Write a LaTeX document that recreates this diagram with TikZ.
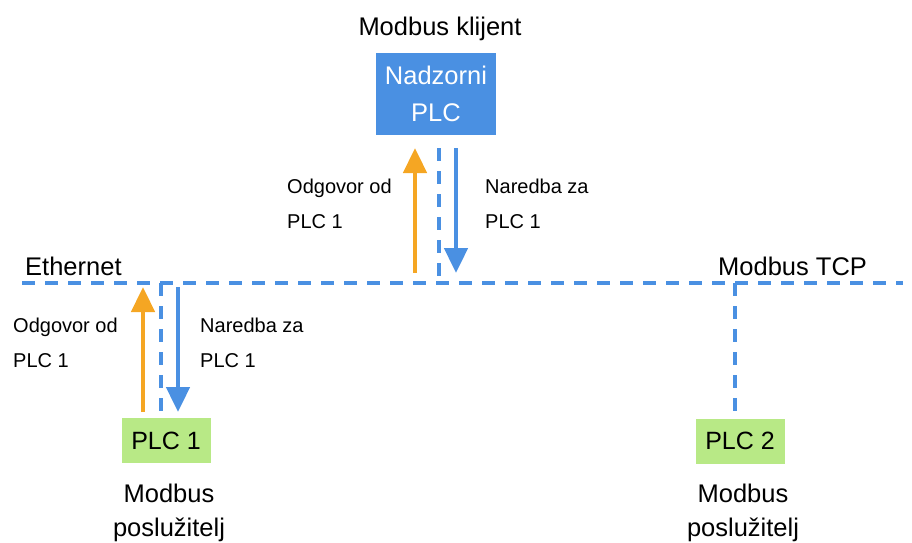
\documentclass[tikz,border=0pt]{standalone}
\usepackage{fontspec}
\setmainfont{Liberation Sans}
\usetikzlibrary{arrows.meta}
\definecolor{netblue}{HTML}{4A90E2}
\definecolor{replyorange}{HTML}{F5A623}
\definecolor{slavegreen}{HTML}{B8E986}
\begin{document}
\begin{tikzpicture}[x=1pt,y=-1pt,
  bigtext/.style={font=\fontsize{25.5}{33.5}\selectfont, inner sep=0pt, align=center},
  smalltext/.style={font=\fontsize{20}{35}\selectfont, inner sep=0pt, align=left, anchor=west},
  bus/.style={netblue, line width=3.3pt, dash pattern=on 13pt off 10pt},
  request/.style={netblue, line width=4.7pt, -{Triangle[width=23pt,length=25pt]}},
  reply/.style={replyorange, line width=4.7pt, -{Triangle[width=23pt,length=25pt]}},
  master/.style={fill=netblue, text=white, minimum width=120pt, minimum height=82pt,
    inner sep=0pt, align=center, font=\fontsize{25.5}{37.3}\selectfont},
  slave/.style={fill=slavegreen, minimum width=89pt, minimum height=45pt,
    inner sep=0pt, font=\fontsize{25}{30}\selectfont},
]
\useasboundingbox (0,0) rectangle (912,542);

% devices
\node[master] (nad) at (436,94) {Nadzorni\\PLC};
\node[slave] (plc1) at (166,440.5) {PLC 1};
\node[slave] (plc2) at (740,441) {PLC 2};

% roles
\node[bigtext, anchor=base] (klijent) at (440,35) {Modbus klijent};
\node[bigtext, anchor=north] (srv1) at (169,484) {Modbus\\poslužitelj};
\node[bigtext, anchor=north] (srv2) at (743,484) {Modbus\\poslužitelj};

% network bus
\coordinate (busL) at (22,283);
\coordinate (busR) at (903,283);
\node[bigtext, anchor=base west] (eth) at (25,275) {Ethernet};
\node[bigtext, anchor=base west] (tcp) at (718,275) {Modbus TCP};
\draw[bus] (busL) -- (busR);

% taps to the bus
\coordinate (j1) at (439,283);
\coordinate (mtap) at (439,148);
\coordinate (j2) at (161,283);
\coordinate (j3) at (735,283);
\draw[bus] (mtap) -- (j1);
\draw[bus] (j2) -- (j2 |- plc1.north);
\draw[bus] (j3) -- (j3 |- plc2.north);

% message flow at the supervisory PLC
\coordinate (rt) at (415,148);
\coordinate (rb) at (415,273);
\coordinate (qt) at (456,148);
\coordinate (qb) at (456,273);
\draw[reply] (rb) -- (rt);
\draw[request] (qt) -- (qb);
\node[smalltext] (odg1) at (287,204) {Odgovor od\\PLC 1};
\node[smalltext] (nar1) at (485,204) {Naredba za\\PLC 1};

% message flow at PLC 1
\coordinate (rt2) at (143,287);
\coordinate (rb2) at (143,412);
\coordinate (qt2) at (178,287);
\coordinate (qb2) at (178,412);
\draw[reply] (rb2) -- (rt2);
\draw[request] (qt2) -- (qb2);
\node[smalltext] (odg2) at (13,343) {Odgovor od\\PLC 1};
\node[smalltext] (nar2) at (200,343) {Naredba za\\PLC 1};
\end{tikzpicture}
\end{document}
